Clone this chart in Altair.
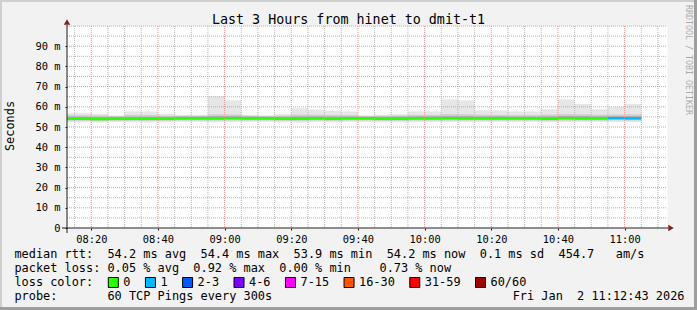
import altair as alt
import pandas as pd

DAY = "2026-01-02"
FONT = "DejaVu Sans Mono"

# ---- data (one entry per 5-minute SmokePing step, labelled by its end time) ----
interval_end = ["08:15", "08:20", "08:25", "08:30", "08:35", "08:40", "08:45", "08:50", "08:55",
                "09:00", "09:05", "09:10", "09:15", "09:20", "09:25", "09:30", "09:35", "09:40",
                "09:45", "09:50", "09:55", "10:00", "10:05", "10:10", "10:15", "10:20", "10:25",
                "10:30", "10:35", "10:40", "10:45", "10:50", "10:55", "11:00", "11:05"]
smoke_max = [57.0, 57.0, 56.5, 55.7, 57.7, 57.7, 56.5, 56.0, 56.0, 65.2, 63.2, 56.0, 55.7, 56.3,
             59.3, 58.7, 58.0, 57.7, 55.7, 56.0, 56.3, 57.7, 57.7, 63.7, 63.2, 58.2, 58.2, 57.7,
             57.7, 58.8, 63.7, 61.5, 58.8, 59.8, 61.5]
smoke_p90 = [55.9, 55.8, 55.7, 55.4, 56.0, 56.0, 55.6, 55.6, 55.6, 56.3, 56.2, 55.6, 55.5, 55.7,
             56.2, 56.1, 56.0, 55.9, 55.5, 55.6, 55.7, 56.0, 56.0, 56.4, 56.3, 56.1, 56.0, 55.9,
             55.9, 56.2, 56.4, 56.3, 56.1, 56.2, 56.3]
smoke_p75 = [55.0, 55.0, 54.9, 54.9, 55.0, 55.0, 55.0, 55.1, 55.1, 55.3, 55.3, 55.1, 55.0, 55.0,
             55.2, 55.2, 55.1, 55.1, 55.0, 55.0, 55.1, 55.2, 55.2, 55.3, 55.3, 55.2, 55.2, 55.1,
             55.1, 55.2, 55.4, 55.3, 55.2, 55.3, 55.3]
median_rtt = [54.0, 54.0, 53.9, 54.0, 54.0, 54.0, 54.0, 54.3, 54.3, 54.3, 54.4, 54.3, 54.3, 54.0,
              54.1, 54.3, 54.0, 54.3, 54.3, 54.0, 54.0, 54.3, 54.3, 54.4, 54.3, 54.3, 54.3, 54.3,
              54.3, 54.0, 54.4, 54.3, 54.3, 54.4, 54.3]
smoke_p25 = [53.5, 53.5, 53.4, 53.5, 53.5, 53.5, 53.5, 53.7, 53.7, 53.7, 53.8, 53.7, 53.7, 53.5,
             53.5, 53.7, 53.5, 53.7, 53.7, 53.5, 53.5, 53.7, 53.7, 53.8, 53.7, 53.7, 53.7, 53.7,
             53.7, 53.5, 53.8, 53.7, 53.7, 53.8, 53.7]
smoke_p10 = [53.0, 53.0, 52.9, 53.0, 53.0, 53.0, 53.0, 53.2, 53.2, 53.1, 53.2, 53.2, 53.2, 53.0,
             53.0, 53.2, 53.0, 53.2, 53.2, 53.0, 53.0, 53.2, 53.2, 53.2, 53.2, 53.2, 53.2, 53.2,
             53.2, 53.0, 53.2, 53.2, 53.2, 53.3, 53.2]
smoke_min = [52.3, 52.3, 52.2, 52.4, 52.3, 52.2, 52.3, 52.5, 52.5, 52.3, 52.4, 52.5, 52.5, 52.3,
             52.2, 52.4, 52.3, 52.5, 52.5, 52.3, 52.3, 52.4, 52.4, 52.4, 52.4, 52.5, 52.5, 52.5,
             52.5, 52.3, 52.4, 52.4, 52.5, 52.5, 52.4]
lost_pings = [0, 0, 0, 0, 0, 0, 0, 0, 0, 0, 0, 0, 0, 0, 0, 0, 0, 0, 0, 0, 0, 0, 0, 0, 0, 0, 0,
              0, 0, 0, 0, 0, 0, 1, 1]

loss_labels = ["0", "1", "2-3", "4-6", "7-15", "16-30", "31-59", "60/60"]
loss_colors = ["#26ff00", "#00b8ff", "#0059ff", "#7e00ff", "#ff00ff", "#ff5500", "#ff0000", "#a10000"]
loss_upper = [0, 1, 3, 6, 15, 30, 59, 60]

x_tick_times = ["08:20", "08:40", "09:00", "09:20", "09:40", "10:00", "10:20", "10:40", "11:00"]

title_text = "Last 3 Hours from hinet to dmit-t1"
y_title = "Seconds"
legend_median = "median rtt:  54.2 ms avg  54.4 ms max  53.9 ms min  54.2 ms now  0.1 ms sd  454.7   am/s"
legend_loss = "packet loss: 0.05 % avg  0.92 % max  0.00 % min    0.73 % now"
legend_color = "loss color:"
legend_probe = "probe:       60 TCP Pings every 300s"
stamp_text = "Fri Jan  2 11:12:43 2026"
watermark = "RRDTOOL / TOBI OETIKER"


def loss_color(n):
    for col, up in zip(loss_colors, loss_upper):
        if n <= up:
            return col
    return loss_colors[-1]


ends = pd.to_datetime([f"{DAY} {t}" for t in interval_end])
starts = ends - pd.Timedelta(minutes=5)
df = pd.DataFrame({
    "start": starts.strftime("%Y-%m-%dT%H:%M:%S"),
    "end": ends.strftime("%Y-%m-%dT%H:%M:%S"),
    "mx": smoke_max, "p90": smoke_p90, "p75": smoke_p75, "med": median_rtt,
    "p25": smoke_p25, "p10": smoke_p10, "mn": smoke_min,
    "lcol": [loss_color(n) for n in lost_pings],
})

# ---- geometry / style ----
W, H = 600, 202
PAD_L, PAD_T = 67, 26
CANVAS_W, CANVAS_H = 697, 310


def dt(hh, mm, ss=0):
    return alt.DateTime(year=2026, month=1, date=2, hours=hh, minutes=mm, seconds=ss)


xscale = alt.Scale(domain=[dt(8, 12, 43), dt(11, 12, 43)])
yscale = alt.Scale(domain=[0, 100], nice=False, zero=True)

x_axis = alt.Axis(values=[dt(int(t[:2]), int(t[3:])) for t in x_tick_times], format="%H:%M",
                  grid=False, domain=False, ticks=True, tickSize=2, tickColor="#1f1f1f",
                  labelFont=FONT, labelFontSize=10.4, labelColor="black", labelPadding=4,
                  labelFlush=False, labelOverlap=False, title=None)
y_axis = alt.Axis(values=list(range(0, 100, 10)),
                  labelExpr="datum.value == 0 ? '0\u00a0\u00a0' : datum.value + '\u00a0m'",
                  grid=False, domain=False, ticks=True, tickSize=2, tickColor="#1f1f1f",
                  labelFont=FONT, labelFontSize=10.4, labelColor="black", labelPadding=5,
                  labelOverlap=False, title=None)


def X(field):
    return alt.X(field, type="temporal", scale=xscale, axis=x_axis)


def Y(field):
    return alt.Y(field, type="quantitative", scale=yscale, axis=y_axis)


base = alt.Chart(df)


def smoke(lo, hi, color):
    return base.mark_rect(color=color, clip=True).encode(
        x=X("start"), x2="end", y=Y(lo), y2=hi)


layers = [
    smoke("mn", "mx", "#e6e6e6"),
    smoke("p10", "p90", "#cfcfcf"),
    smoke("p25", "p75", "#a3a3a3"),
]

# grid
minor_t = [t for t in pd.date_range(f"{DAY} 08:15", f"{DAY} 11:10", freq="5min") if t.minute % 20 != 0]
major_t = [t for t in pd.date_range(f"{DAY} 08:20", f"{DAY} 11:00", freq="20min")]
minor_v = [v for v in range(5, 101, 5) if v % 10 != 0] + [100]
major_v = list(range(10, 100, 10))
for times, colr in ((minor_t, "#b4b4b4"), (major_t, "#eb9696")):
    gdf = pd.DataFrame({"t": [t.strftime("%Y-%m-%dT%H:%M:%S") for t in times]})
    layers.append(alt.Chart(gdf).mark_rule(strokeDash=[1, 1], strokeWidth=1, color=colr).encode(
        x=X("t"), y=alt.value(0), y2=alt.value(H)))
for vals, colr in ((minor_v, "#b4b4b4"), (major_v, "#eb9696")):
    gdf = pd.DataFrame({"v": vals})
    layers.append(alt.Chart(gdf).mark_rule(strokeDash=[1, 1], strokeWidth=1, color=colr).encode(
        y=Y("v"), x=alt.value(0), x2=alt.value(W)))

# median line coloured by loss
layers.append(base.mark_rule(strokeWidth=2.2, clip=True).encode(
    x=X("start"), x2="end", y=Y("med"),
    color=alt.Color("lcol:N", scale=None, legend=None)))

one = alt.Data(values=[{"k": 0}])


def txt(s, x, y, size=11.9, align="left", angle=0, color="black", baseline="alphabetic", opacity=1):
    return alt.Chart(one).mark_text(text=s.replace(" ", "\u00a0"), align=align, baseline=baseline,
                                    font=FONT, fontSize=size, color=color, angle=angle,
                                    opacity=opacity).encode(x=alt.value(x), y=alt.value(y))


def box(x, x2, y, y2, fill, stroke=""):
    kw = dict(fill=fill, opacity=1)
    if stroke:
        kw.update(stroke=stroke, strokeWidth=1)
    return alt.Chart(one).mark_rect(**kw).encode(
        x=alt.value(x), x2=alt.value(x2), y=alt.value(y), y2=alt.value(y2))


# axis lines + arrows
layers.append(alt.Chart(one).mark_rule(color="#1f1f1f", strokeWidth=1).encode(
    x=alt.value(-5), x2=alt.value(W + 1), y=alt.value(H)))
layers.append(alt.Chart(one).mark_rule(color="#1f1f1f", strokeWidth=1).encode(
    x=alt.value(0), y=alt.value(-1), y2=alt.value(H + 5)))
layers.append(alt.Chart(one).mark_point(shape="triangle-right", filled=True, size=40,
                                        color="#801f1f", opacity=1).encode(
    x=alt.value(W + 4), y=alt.value(H)))
layers.append(alt.Chart(one).mark_point(shape="triangle-up", filled=True, size=40,
                                        color="#801f1f", opacity=1).encode(
    x=alt.value(0), y=alt.value(-4)))

# texts
CW = 7.146
TX = 14.4 - PAD_L
layers.append(txt(title_text, CANVAS_W / 2 - PAD_L, 24 - PAD_T, size=13.35, align="center"))
layers.append(txt(y_title, 10 - PAD_L, 126 - PAD_T, align="center", angle=270, baseline="middle"))
layers.append(txt(watermark, 688 - PAD_L, 5 - PAD_T, size=8.3, angle=90, baseline="middle",
                  color="#000000", opacity=0.3))
rows_y = [258.0 - PAD_T, 272.0 - PAD_T, 286.0 - PAD_T, 300.0 - PAD_T]
layers.append(txt(legend_median, TX, rows_y[0]))
layers.append(txt(legend_loss, TX, rows_y[1]))
layers.append(txt(legend_color, TX, rows_y[2]))
layers.append(txt(legend_probe, TX, rows_y[3]))
layers.append(txt(stamp_text, 684.5 - PAD_L, rows_y[3], align="right"))

sx = 108.3 - PAD_L
for lab, col in zip(loss_labels, loss_colors):
    layers.append(box(sx, sx + 10, 277.5 - PAD_T, 287.5 - PAD_T, col, stroke="#000000"))
    layers.append(txt(lab, sx + 15, rows_y[2]))
    sx += 30 + CW * len(lab)

# frame (3D shade)
L, T, R, B = -PAD_L, -PAD_T, CANVAS_W - PAD_L, CANVAS_H - PAD_T
layers.append(box(L, R, T, T + 2, "#cfcfcf"))
layers.append(box(L, L + 2, T, B, "#cfcfcf"))
layers.append(box(L, R, B - 3, B, "#9e9e9e"))
layers.append(box(R - 3, R, T, B, "#9e9e9e"))

chart = alt.layer(*layers).properties(
    width=W, height=H,
    padding={"left": PAD_L, "top": PAD_T, "right": CANVAS_W - PAD_L - W, "bottom": CANVAS_H - PAD_T - H},
    autosize=alt.AutoSizeParams(type="none"),
    background="#f2f2f2",
).configure_view(fill="white", stroke="transparent")

chart.save("out.html", embed_options={"renderer": "svg", "actions": False})
